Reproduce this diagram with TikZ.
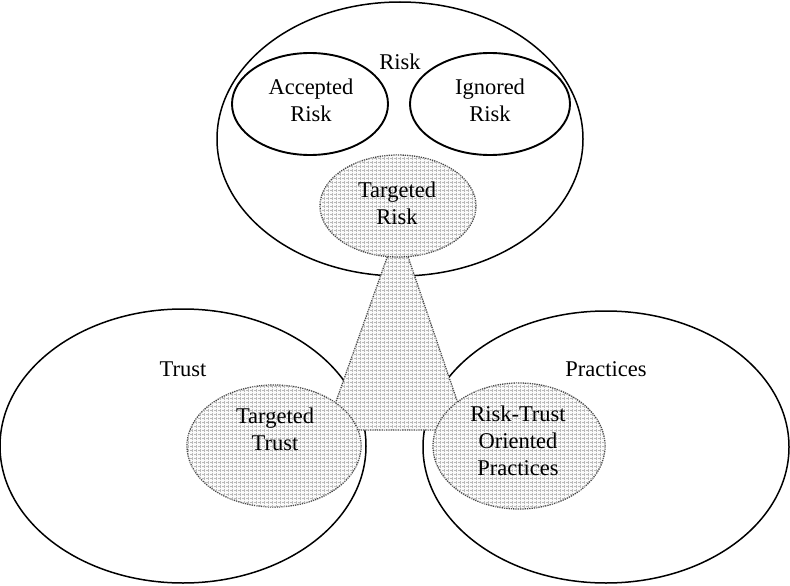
\documentclass[tikz,border=0pt]{standalone}
\usepackage{fontspec}
\setmainfont{Liberation Serif}
\usetikzlibrary{shapes.geometric,patterns}
\pgfdeclarepatternformonly{smallgrid}{\pgfqpoint{-0.5pt}{-0.5pt}}{\pgfqpoint{4.5pt}{4.5pt}}{\pgfqpoint{4pt}{4pt}}{%
  \pgfsetlinewidth{0.75pt}%
  \pgfpathmoveto{\pgfqpoint{0pt}{0pt}}\pgfpathlineto{\pgfqpoint{4pt}{0pt}}%
  \pgfpathmoveto{\pgfqpoint{0pt}{0pt}}\pgfpathlineto{\pgfqpoint{0pt}{4pt}}%
  \pgfusepath{stroke}}
\tikzset{
  bigell/.style={ellipse, draw=black, line width=1.5pt, fill=white, inner sep=0pt},
  smallell/.style={ellipse, draw=black, line width=1.9pt, fill=white, inner sep=0pt},
  gridfill/.style={fill=gray!4, postaction={pattern=smallgrid, pattern color=gray!55}},
  dotell/.style={ellipse, inner sep=0pt, gridfill, draw=gray!55!black, densely dotted, line width=1.3pt},
  lbl/.style={font=\fontsize{22.5}{27}\selectfont, align=center, inner sep=0pt}
}
\begin{document}
\begin{tikzpicture}[x=1pt, y=-1pt]
\useasboundingbox (0,0) rectangle (790,586);
% large sets
\node[bigell, minimum width=366pt, minimum height=274pt] (risk) at (400,139) {};
\node[bigell, minimum width=366pt, minimum height=274pt] (trust) at (183,446) {};
\node[bigell, minimum width=366pt, minimum height=272pt] (prac) at (606,447) {};
% accepted / ignored
\node[smallell, minimum width=156pt, minimum height=102pt] (acc) at (310,104) {};
\node[smallell, minimum width=160pt, minimum height=102pt] (ign) at (490,104) {};
% connecting band
\coordinate (tl) at (391.5,245);
\coordinate (tr) at (404,245);
\coordinate (br) at (467,430);
\coordinate (bl) at (326,430);
\draw[gridfill, draw=gray!55!black, densely dotted, line width=1.3pt] (tl) -- (tr) -- (br) -- (bl) -- cycle;
% targeted sets
\node[dotell, minimum width=156pt, minimum height=102pt] (trisk) at (398,206) {};
\node[dotell, minimum width=174pt, minimum height=122pt] (ttrust) at (274,446) {};
\node[dotell, minimum width=172pt, minimum height=126pt] (rtp) at (519,446) {};
% labels
\node[lbl] (riskl) at (400,62) {Risk};
\node[lbl] (trustl) at (183,369) {Trust};
\node[lbl] (pracl) at (606,369) {Practices};
\node[lbl] (accl) at (311,100) {Accepted\\Risk};
\node[lbl] (ignl) at (490,100) {Ignored\\Risk};
\node[lbl] (triskl) at (397,203) {Targeted\\Risk};
\node[lbl] (ttrustl) at (275,429) {Targeted\\Trust};
\node[lbl] (rtpl) at (518,441) {Risk-Trust\\Oriented\\Practices};
\end{tikzpicture}
\end{document}
